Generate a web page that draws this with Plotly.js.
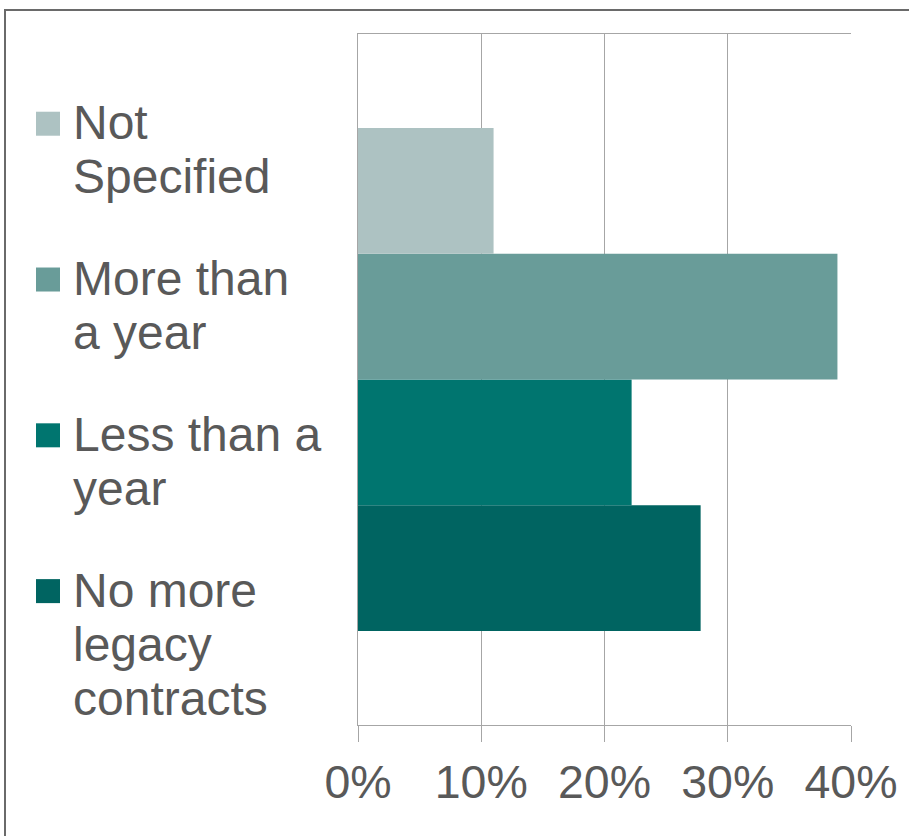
<!DOCTYPE html>
<html>
<head>
<meta charset="utf-8">
<script src="https://cdn.plot.ly/plotly-3.0.1.min.js"></script>
<style>
  html, body { margin: 0; padding: 0; background: #ffffff; }
  #wrap { position: relative; width: 909px; height: 836px; overflow: hidden; }
  #frame { position: absolute; left: 4px; top: 9px; width: 940px; height: 880px;
           border: 2px solid #6a6a6a; box-sizing: border-box; pointer-events: none; z-index: 5; }
  #chart { position: absolute; left: 0; top: 0; width: 909px; height: 836px; }
</style>
</head>
<body>
<div id="wrap">
  <div id="chart"></div>
  <div id="frame"></div>
</div>
<script>
// Series (top to bottom in the chart)
const seriesNames = ["Not<br>Specified", "More than<br>a year", "Less than a<br>year", "No more<br>legacy<br>contracts"];
const seriesValues = [0.11, 0.389, 0.222, 0.278];
const seriesColors = ["#adc2c2", "#699c99", "#00756f", "#006461"];
const category = ["Legacy contracts"];
const tickValues = [0, 0.1, 0.2, 0.3, 0.4];
const tickLabels = ["0%", "10%", "20%", "30%", "40%"];

// Plotly places grouped horizontal bars bottom-up, so add traces in reverse
const traces = [];
for (let i = seriesNames.length - 1; i >= 0; i--) {
  traces.push({
    type: "bar",
    orientation: "h",
    name: seriesNames[i],
    legendgroup: "g" + i,
    legendrank: i + 1,
    y: category,
    x: [seriesValues[i]],
    marker: { color: seriesColors[i], line: { width: 0 } },
    hoverinfo: "skip"
  });
}

const layout = {
  width: 909,
  height: 836,
  margin: { l: 358, r: 58, t: 34, b: 111 },
  paper_bgcolor: "#ffffff",
  plot_bgcolor: "#ffffff",
  barmode: "group",
  bargap: 0.272,
  font: { family: "Liberation Sans, Arial, sans-serif", color: "#595959" },
  showlegend: true,
  legend: {
    xref: "container", yref: "container",
    x: 0.0253, y: 0.9007, xanchor: "left", yanchor: "top",
    traceorder: "grouped",
    tracegroupgap: 28,
    maxheight: 1,
    itemwidth: 40,
    valign: "top",
    font: { size: 48, color: "#595959", family: "Liberation Sans, Arial, sans-serif" },
    bgcolor: "rgba(0,0,0,0)"
  },
  xaxis: {
    range: [0, 0.4],
    tickvals: tickValues,
    ticktext: tickLabels,
    showgrid: true,
    gridcolor: "#a6a6a6",
    gridwidth: 1,
    zeroline: false,
    showline: true,
    linecolor: "#a6a6a6",
    linewidth: 1,
    mirror: true,
    ticks: "outside",
    ticklen: 16,
    tickcolor: "#a6a6a6",
    tickfont: { size: 46.5, color: "#595959" },
    fixedrange: true
  },
  yaxis: {
    type: "category",
    range: [-0.5, 0.5],
    showticklabels: false,
    showgrid: false,
    zeroline: false,
    showline: true,
    linecolor: "#a6a6a6",
    linewidth: 1,
    ticks: "",
    fixedrange: true
  }
};

Plotly.newPlot("chart", traces, layout, { displayModeBar: false, staticPlot: true }).then(function () {
  // enlarge the legend swatches to match the reference squares
  document.querySelectorAll("#chart .legend .legendpoints path").forEach(function (p) {
    p.setAttribute("d", "M12,15H-12V-9H12Z");
  });
  // tighter line spacing inside legend labels (reference uses ~1.125em)
  document.querySelectorAll("#chart .legend text.legendtext tspan.line").forEach(function (t) {
    const dy = t.getAttribute("dy");
    if (dy && dy.indexOf("em") > 0) {
      const v = parseFloat(dy);
      if (v) t.setAttribute("dy", (v / 1.3 * 1.125) + "em");
    }
  });
});
</script>
</body>
</html>
